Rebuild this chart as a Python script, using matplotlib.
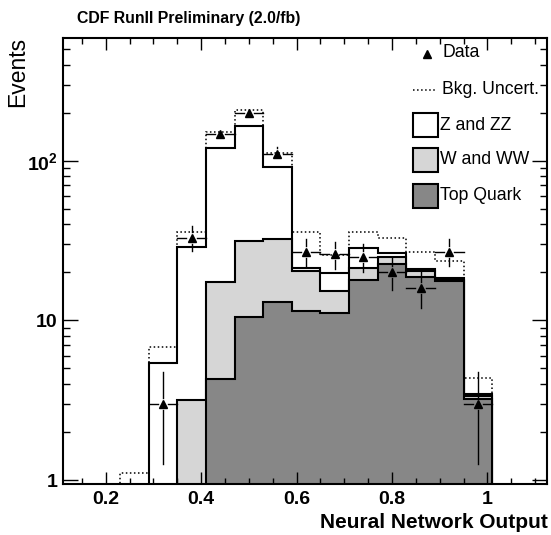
import matplotlib
matplotlib.use('Agg')
import matplotlib.pyplot as plt
import matplotlib.patches as patches
from matplotlib.lines import Line2D
from matplotlib.ticker import FixedLocator, FixedFormatter, LogLocator, NullFormatter, MultipleLocator
import numpy as np

plt.rcParams['font.family'] = 'Liberation Sans'
plt.rcParams['mathtext.fontset'] = 'custom'
plt.rcParams['mathtext.bf'] = 'Liberation Sans:bold'
plt.rcParams['mathtext.rm'] = 'Liberation Sans'

# histogram binning of the network output
bin_edges = np.round(np.arange(0.23, 1.02, 0.06), 2)

# expected yields per bin, stacked bottom to top
top_quark = [0, 0, 0, 4.3, 10.5, 13.0, 11.5, 11.1, 18.0, 22.6, 18.8, 17.6, 3.24]
w_and_ww = [0, 0, 3.16, 13.1, 21.1, 19.4, 9.0, 4.1, 3.2, 2.3, 1.5, 0.4, 0.13]
z_and_zz = [0.7, 5.44, 25.5, 103.6, 133.4, 59.3, 0.7, 4.7, 7.3, 1.6, 0.7, 0.4, 0.11]
# upper edge of the background uncertainty band
bkg_upper = [1.11, 6.8, 36, 152, 208, 112, 36, 25.8, 35.6, 32.9, 26.7, 23.7, 4.36]
# observed events (first bin empty)
data = [0, 3, 33, 148, 200, 111, 27, 26, 25, 20, 16, 27, 3]

x_ticks = [0.2, 0.4, 0.6, 0.8, 1.0]
x_ticklabels = ['0.2', '0.4', '0.6', '0.8', '1']
y_ticks = [1, 10, 100]
y_ticklabels = ['1', '10', r'$\mathbf{10^{2}}$']

W, H = 551, 535


def fxy(x, y):
    return x / W, 1 - y / H


def main():
    fig = plt.figure(figsize=(W / 100, H / 100), dpi=100)
    ax = fig.add_axes([63.3 / W, 1 - 484.3 / H, 483.7 / W, 446 / H])

    top = np.array(top_quark)
    w_cum = top + np.array(w_and_ww)
    z_cum = w_cum + np.array(z_and_zz)

    base = 0.1
    ax.stairs(z_cum, bin_edges, baseline=base, fill=True, facecolor='white',
              edgecolor='black', linewidth=1.5)
    ax.stairs(w_cum, bin_edges, baseline=base, fill=True, facecolor='#d6d6d6',
              edgecolor='black', linewidth=1.5)
    ax.stairs(top, bin_edges, baseline=base, fill=True, facecolor='#878787',
              edgecolor='black', linewidth=1.5)
    ax.stairs(bkg_upper, bin_edges, baseline=base, color='black',
              linestyle=':', linewidth=1.1)

    # data points with error bars, gap left around the marker
    centers = 0.5 * (bin_edges[:-1] + bin_edges[1:])
    half = 0.5 * np.diff(bin_edges)
    d = np.array(data, dtype=float)
    gx = 0.011
    gy = 10 ** (6 / 160)
    for xc, hw, n in zip(centers, half, d):
        if n <= 0:
            continue
        err = np.sqrt(n)
        ax.plot([xc - hw, xc - gx], [n, n], color='black', lw=1.0)
        ax.plot([xc + gx, xc + hw], [n, n], color='black', lw=1.0)
        if n + err > n * gy:
            ax.plot([xc, xc], [n * gy, n + err], color='black', lw=1.0)
        if n - err < n / gy:
            ax.plot([xc, xc], [max(n - err, 0.5), n / gy], color='black', lw=1.0)
    mask = d > 0
    ax.plot(centers[mask], d[mask], linestyle='none', marker='^', color='black',
            markersize=6)

    ax.set_yscale('log')
    ax.set_xlim(0.111, 1.125)
    ax.set_ylim(0.94, 585)

    ax.xaxis.set_major_locator(FixedLocator(x_ticks))
    ax.xaxis.set_major_formatter(FixedFormatter(x_ticklabels))
    ax.xaxis.set_minor_locator(MultipleLocator(0.05))
    ax.yaxis.set_major_locator(FixedLocator(y_ticks))
    ax.yaxis.set_major_formatter(FixedFormatter(y_ticklabels))
    ax.yaxis.set_minor_locator(LogLocator(base=10, subs=np.arange(2, 10)))
    ax.yaxis.set_minor_formatter(NullFormatter())

    ax.tick_params(which='both', direction='in', top=True, right=True, width=1.0)
    ax.tick_params(axis='x', which='major', length=8.5, pad=5)
    ax.tick_params(axis='x', which='minor', length=4.3)
    ax.tick_params(axis='y', which='major', length=10.5, pad=4)
    ax.tick_params(axis='y', which='minor', length=5)
    for lab in ax.get_xticklabels() + ax.get_yticklabels():
        lab.set_fontsize(14)
        lab.set_fontweight('bold')
    for sp in ax.spines.values():
        sp.set_linewidth(1.5)

    fig.text(*fxy(77, 19), 'CDF RunII Preliminary (2.0/fb)', fontsize=11.4,
             fontweight='bold', ha='left', va='center')
    fig.text(*fxy(18, 37), 'Events', fontsize=16.5, rotation=90,
             ha='center', va='top')
    fig.text(*fxy(548, 522), 'Neural Network Output', fontsize=15,
             fontweight='bold', ha='right', va='center')

    # legend
    tf = fig.transFigure
    fs = 12.7
    fig.add_artist(Line2D([427 / W], [1 - 54 / H], marker='^', color='black',
                          markersize=6, linestyle='none', transform=tf))
    fig.text(*fxy(443, 52), 'Data', fontsize=fs, ha='left', va='center')
    x0, y0 = fxy(413, 90)
    x1, _ = fxy(435, 90)
    fig.add_artist(Line2D([x0, x1], [y0, y0], color='black', linestyle=':',
                          linewidth=1.1, transform=tf))
    fig.text(*fxy(442, 90), 'Bkg. Uncert.', fontsize=fs, ha='left', va='center')

    boxes = [('Z and ZZ', 'white', 113), ('W and WW', '#d6d6d6', 148),
             ('Top Quark', '#878787', 184)]
    for label, color, ytop in boxes:
        bx, by = fxy(413, ytop + 24)
        fig.add_artist(patches.Rectangle((bx, by), 25 / W, 24 / H, transform=tf,
                                         facecolor=color, edgecolor='black',
                                         linewidth=1.5))
        fig.text(*fxy(440, ytop + 12), label, fontsize=fs, ha='left', va='center')

    plt.savefig('out.png', dpi=100)


if __name__ == '__main__':
    main()
